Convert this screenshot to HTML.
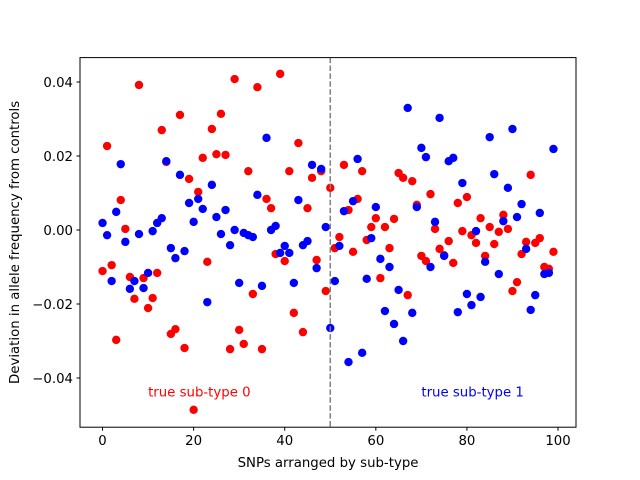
<!DOCTYPE html>
<html><head><meta charset="utf-8"><style>
body{margin:0;background:#fff}
svg{display:block;font-family:"DejaVu Sans","Liberation Sans",sans-serif}
</style></head><body>
<svg id="chart" width="640" height="480" viewBox="0 0 640 480">
<rect width="640" height="480" fill="#fff"/>
<g id="marks"></g>
<g id="axes"></g>
</svg>
<script>
const redValues=[-0.0111,0.0227,-0.0095,-0.0297,0.0081,0.0003,-0.0127,-0.0186,0.0392,-0.0130,-0.0211,-0.0184,-0.0116,0.0270,0.0184,-0.0281,-0.0268,0.0311,-0.0319,0.0138,-0.0486,0.0103,0.0195,-0.0086,0.0273,0.0205,0.0314,0.0203,-0.0322,0.0408,-0.0270,-0.0308,0.0159,-0.0173,0.0386,-0.0322,0.0084,0.0059,-0.0065,0.0422,-0.0084,0.0159,-0.0224,0.0235,-0.0276,0.0059,0.0141,-0.0081,0.0159,-0.0165,0.0114,-0.0049,-0.0019,0.0176,0.0054,-0.0059,0.0084,0.0159,-0.0027,0.0008,0.0032,-0.0130,0.0008,-0.0049,0.0030,0.0154,0.0141,-0.0176,0.0132,0.0068,-0.0070,-0.0084,0.0097,0.0003,-0.0051,-0.0068,-0.0030,-0.0089,0.0073,-0.0003,0.0089,-0.0014,-0.0035,0.0032,-0.0070,0.0008,-0.0038,-0.0005,0.0041,0.0003,-0.0165,-0.0141,-0.0065,-0.0032,0.0149,-0.0035,-0.0022,-0.0100,-0.0105,-0.0059];
const blueValues=[0.0019,-0.0014,-0.0138,0.0049,0.0178,-0.0032,-0.0159,-0.0138,-0.0011,-0.0157,-0.0116,-0.0003,0.0019,0.0032,0.0186,-0.0049,-0.0076,0.0149,-0.0057,0.0073,0.0022,0.0084,0.0057,-0.0195,0.0122,0.0035,-0.0011,0.0054,-0.0041,0.0000,-0.0143,-0.0008,-0.0014,-0.0019,0.0095,-0.0151,0.0249,0.0000,0.0011,-0.0062,-0.0043,-0.0062,-0.0143,0.0081,-0.0041,-0.0030,0.0176,-0.0103,0.0165,0.0008,-0.0265,-0.0138,-0.0043,0.0051,-0.0357,0.0078,0.0192,-0.0332,-0.0132,-0.0022,0.0062,-0.0078,-0.0219,-0.0100,-0.0254,-0.0162,-0.0300,0.0330,-0.0224,0.0062,0.0222,0.0197,-0.0100,0.0022,0.0303,-0.0070,0.0186,0.0195,-0.0222,0.0127,-0.0173,-0.0203,-0.0003,-0.0181,-0.0086,0.0251,0.0151,-0.0119,0.0024,0.0114,0.0273,0.0035,0.0070,-0.0051,-0.0216,-0.0176,0.0046,-0.0119,-0.0116,0.0219];
const xTicks=[0,20,40,60,80,100];
const yTicks=[-0.04,-0.02,0.00,0.02,0.04];
const yTickLabels=["\u22120.04","\u22120.02","0.00","0.02","0.04"];
const splitAt=50;

const L=80,R=576,T=57.6,B=427.2;
const xMin=-4.95,xMax=103.95,yMin=-0.0533,yMax=0.0466;
const sx=v=>L+(v-xMin)/(xMax-xMin)*(R-L);
const sy=v=>B-(v-yMin)/(yMax-yMin)*(B-T);
const NS="http://www.w3.org/2000/svg";
function mk(tag,attrs,parent){const e=document.createElementNS(NS,tag);for(const k in attrs)e.setAttribute(k,attrs[k]);parent.appendChild(e);return e;}
const marks=document.getElementById('marks'),axes=document.getElementById('axes');

redValues.forEach((v,i)=>{
  const c=mk('circle',{cx:sx(i),cy:sy(v),r:4.2,fill:'#ff0000'},marks);
  
  
});
blueValues.forEach((v,i)=>{
  const c=mk('circle',{cx:sx(i),cy:sy(v),r:4.2,fill:'#0000ff'},marks);
  
  
});
const dl=mk('line',{x1:sx(splitAt),x2:sx(splitAt),y1:T,y2:B,stroke:'#808080','stroke-width':1.5,'stroke-dasharray':'5.5,2.4'},marks);



const t0=mk('text',{x:sx(10),y:sy(-0.045),fill:'#ff0000','font-size':13.3},marks);t0.textContent='true sub-type 0';


const t1=mk('text',{x:sx(70),y:sy(-0.045),fill:'#0000ff','font-size':13.3},marks);t1.textContent='true sub-type 1';



const fr=mk('rect',{x:L,y:T,width:R-L,height:B-T,fill:'none',stroke:'#000','stroke-width':1},axes);



xTicks.forEach(v=>{
  const x=sx(v);
  const tk=mk('line',{x1:x,x2:x,y1:B,y2:B+3.5,stroke:'#000'},axes);
  
  
  const tl=mk('text',{x:x,y:B+18,'text-anchor':'middle','font-size':13.3},axes);tl.textContent=String(v);
  
  
});
yTicks.forEach((v,i)=>{
  const y=sy(v);
  const tk=mk('line',{x1:L-3.5,x2:L,y1:y,y2:y,stroke:'#000'},axes);
  
  
  const tl=mk('text',{x:L-7,y:y+4.8,'text-anchor':'end','font-size':13.3},axes);tl.textContent=yTickLabels[i];
  
  
});
const xt=mk('text',{x:(L+R)/2,y:467,'text-anchor':'middle','font-size':13.3},axes);xt.textContent='SNPs arranged by sub-type';


const yt=mk('text',{x:0,y:0,'text-anchor':'middle','font-size':13.3,transform:'translate(19,'+((T+B)/2)+') rotate(-90)'},axes);yt.textContent='Deviation in allele frequency from controls';


</script>
</body></html>
